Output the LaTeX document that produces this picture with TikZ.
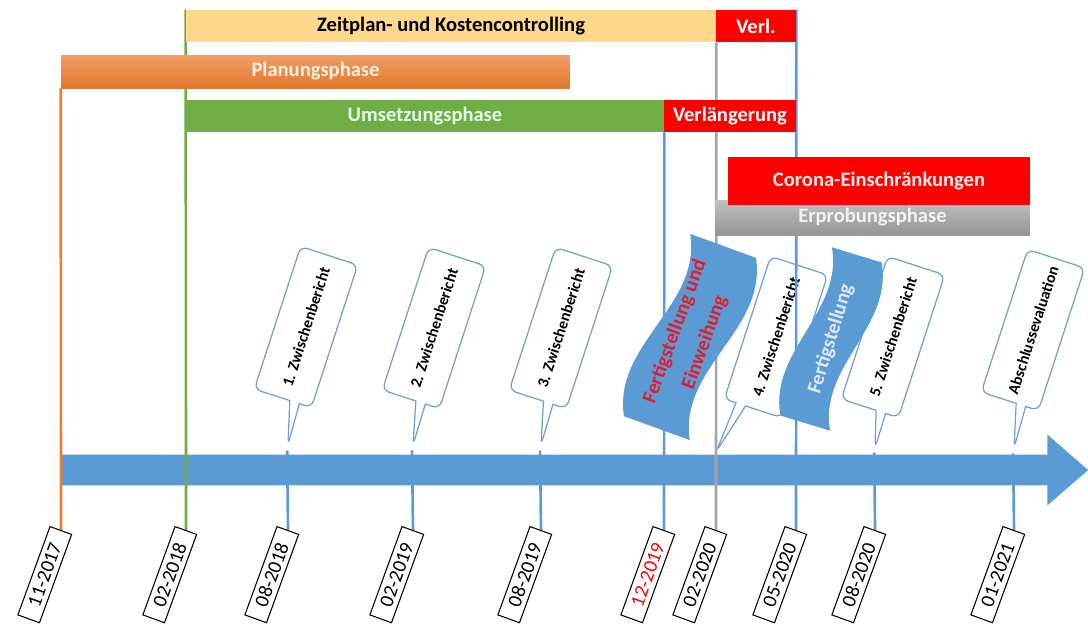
\documentclass[tikz,border=0pt]{standalone}
\usepackage{fontspec}
\setmainfont{Carlito}
\usetikzlibrary{shapes.callouts,shapes.arrows}
\pgfdeclarelayer{back}
\pgfdeclarelayer{mid}
\pgfsetlayers{back,mid,main}
\definecolor{zeitgelb}{RGB}{255,216,140}
\definecolor{planorange}{RGB}{237,125,49}
\definecolor{umsgruen}{RGB}{112,173,71}
\definecolor{erprgrau}{RGB}{165,165,165}
\definecolor{achsblau}{RGB}{91,155,213}
\definecolor{callrand}{RGB}{110,160,210}
\definecolor{welltext}{RGB}{225,30,45}
\definecolor{welltext2}{RGB}{222,235,247}
\tikzset{
  bar/.style={inner sep=0pt, minimum height=0.64cm, text=white,
    font=\bfseries\fontsize{11.7}{14}\selectfont},
  datum/.style={draw, line width=0.6pt, fill=white, rotate=70, anchor=east,
    minimum width=1.88cm, minimum height=0.46cm, inner sep=0pt,
    font=\fontsize{11.3}{13}\selectfont},
  bericht/.style={rectangle callout, draw=callrand, line width=0.7pt, fill=white,
    rounded corners=4pt, rotate=72, minimum width=3cm, minimum height=1.2cm,
    callout pointer width=0.2cm, inner sep=0pt,
    font=\bfseries\fontsize{9}{11}\selectfont},
  welle/.style={align=center, font=\bfseries\fontsize{11.5}{15}\selectfont},
  tick/.style={line width=1.5pt, draw=achsblau},
}
\begin{document}
\begin{tikzpicture}
        \def\x{0.02}
        \def\y{-0.02}
        \useasboundingbox (0,0) rectangle (1088*\x, 625*\y);
        % timeline and reports
        \begin{pgfonlayer}{back}
        \node[single arrow, fill=achsblau, minimum height=20.54cm, minimum width=1.4cm,
          single arrow head extend=0.4cm, single arrow tip angle=82, inner xsep=0pt,
          inner ysep=0.3cm, text height=0pt, text depth=0pt, anchor=tail] (A0) at (61*\x, 470*\y) {};
        \node[bericht, callout absolute pointer={(288*\x, 445*\y)}] (C1) at (306*\x, 327*\y) {1. Zwischenbericht};
        \node[bericht, callout absolute pointer={(413*\x, 445*\y)}] (C2) at (434*\x, 328*\y) {2. Zwischenbericht};
        \node[bericht, callout absolute pointer={(541*\x, 445*\y)}] (C3) at (561*\x, 328*\y) {3. Zwischenbericht};
        \node[bericht, callout absolute pointer={(716*\x, 452*\y)}] (C4) at (776*\x, 337*\y) {4. Zwischenbericht};
        \node[bericht, callout absolute pointer={(875*\x, 448*\y)}] (C5) at (893*\x, 337*\y) {5. Zwischenbericht};
        \node[bericht, callout absolute pointer={(1014*\x, 448*\y)}] (C6) at (1033*\x, 330*\y) {Abschlussevaluation};
        \end{pgfonlayer}
        % milestones
        \begin{scope}[shift={(690*\x, 337*\y)}, rotate=70]
          \fill[achsblau] (-1.94,0.7) .. controls (-0.65,1.4) and (0.65,0) .. (1.94,0.7)
            -- (1.94,-0.7) .. controls (0.65,-1.4) and (-0.65,0) .. (-1.94,-0.7) -- cycle;
        \end{scope}
        \node[welle, rotate=70, text=welltext] (W1) at (690*\x, 337*\y) {Fertigstellung und\\[3pt]Einweihung};
        \begin{scope}[shift={(831*\x, 339*\y)}, rotate=73]
          \fill[achsblau] (-1.76,0.52) .. controls (-0.59,1.12) and (0.59,-0.08) .. (1.76,0.52)
            -- (1.76,-0.52) .. controls (0.59,-1.12) and (-0.59,0.08) .. (-1.76,-0.52) -- cycle;
        \end{scope}
        \node[welle, rotate=73, text=welltext2] (W2) at (831*\x, 339*\y) {Fertigstellung};
        % phases
        \node[bar, fill=zeitgelb, text=black, minimum width=10.6cm] (P0) at (451*\x, 26*\y) {Zeitplan- und Kostencontrolling};
        \node[bar, fill=red, minimum width=1.6cm] (P1) at (756*\x, 26*\y) {Verl.};
        \node[bar, top color=planorange!75!white, bottom color=planorange!95!black, text=orange!12!white,
          minimum width=10.18cm, minimum height=0.66cm] (P2) at (315.5*\x, 71.5*\y) {Planungsphase};
        \node[bar, fill=umsgruen, text=green!10!white, minimum width=9.56cm] (P3) at (425*\x, 116*\y) {Umsetzungsphase};
        \node[bar, fill=red, minimum width=2.64cm] (P4) at (730*\x, 116*\y) {Verlängerung};
        \node[bar, top color=erprgrau!70!white, bottom color=erprgrau!90!black, text=white!95!black,
          minimum width=6.3cm, minimum height=0.7cm] (P5) at (872.5*\x, 217.5*\y) {Erprobungsphase};
        \node[bar, fill=red, text=red!8!white, minimum width=6.04cm, minimum height=0.96cm] (P6) at (879*\x, 181*\y) {Corona-Einschränkungen};
        % dates
        \node[datum] (D0) at (61*\x, 530*\y) {11-2017};
        \node[datum] (D1) at (186*\x, 530*\y) {02-2018};
        \node[datum] (D2) at (288*\x, 530*\y) {08-2018};
        \node[datum] (D3) at (413*\x, 530*\y) {02-2019};
        \node[datum] (D4) at (541*\x, 530*\y) {08-2019};
        \node[datum, text=red] (D5) at (664*\x, 530*\y) {12-2019};
        \node[datum] (D6) at (716*\x, 530*\y) {02-2020};
        \node[datum] (D7) at (796*\x, 530*\y) {05-2020};
        \node[datum] (D8) at (875*\x, 530*\y) {08-2020};
        \node[datum] (D9) at (1014*\x, 530*\y) {01-2021};
        \begin{pgfonlayer}{mid}
        \path (P2.south west) edge [tick, draw=planorange] (D0.east);
        \path (P0.north west) edge [tick, draw=umsgruen] (D1.east);
        \path (C1.pointer) edge [tick] (D2.east);
        \path (C2.pointer) edge [tick] (D3.east);
        \path (C3.pointer) edge [tick] (D4.east);
        \path (P3.south east) edge [tick] (D5.east);
        \path (P0.south east) edge [tick, draw=erprgrau] (D6.east);
        \path (P1.north east) edge [tick] (D7.east);
        \path (C5.pointer) edge [tick] (D8.east);
        \path (C6.pointer) edge [tick] (D9.east);
        \end{pgfonlayer}
      \end{tikzpicture}
\end{document}
